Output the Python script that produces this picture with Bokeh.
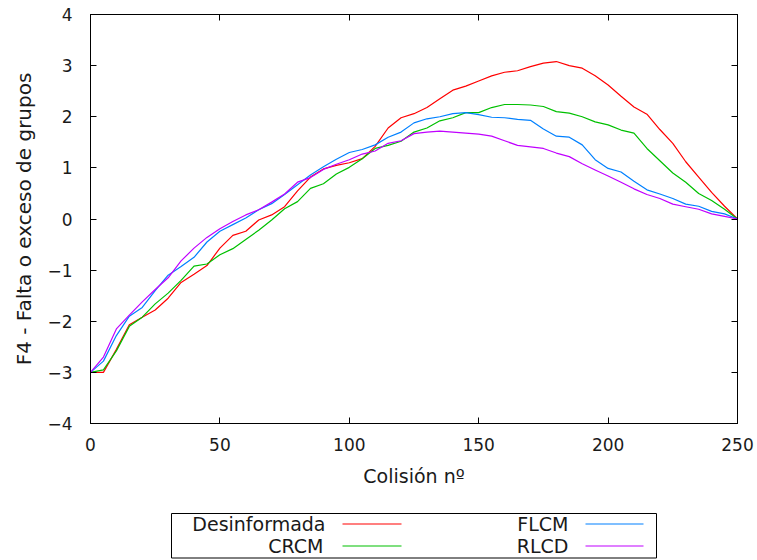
from bokeh.plotting import figure
from bokeh.models import Range1d, FixedTicker, LinearAxis, ColumnDataSource
from bokeh.layouts import column
from bokeh.core.properties import value
from bokeh.embed import file_html
from bokeh.resources import INLINE

# ---------------- data ----------------
x = list(range(0, 255, 5))

desinformada = [-3.0, -3.0, -2.55, -2.07, -1.92, -1.78, -1.55, -1.24, -1.08, -0.91,
                -0.57, -0.32, -0.24, -0.02, 0.08, 0.24, 0.55, 0.82, 0.98, 1.05,
                1.10, 1.18, 1.42, 1.78, 1.98, 2.06, 2.18, 2.35, 2.52, 2.60,
                2.70, 2.80, 2.87, 2.90, 2.98, 3.05, 3.08, 3.00, 2.95, 2.80,
                2.62, 2.40, 2.19, 2.05, 1.75, 1.48, 1.12, 0.82, 0.52, 0.25, 0.0]

crcm = [-3.0, -2.95, -2.58, -2.10, -1.92, -1.66, -1.45, -1.20, -0.92, -0.88,
        -0.70, -0.58, -0.40, -0.22, -0.02, 0.20, 0.34, 0.60, 0.69, 0.88,
        1.01, 1.18, 1.38, 1.44, 1.52, 1.70, 1.78, 1.92, 1.98, 2.08,
        2.08, 2.18, 2.24, 2.24, 2.23, 2.20, 2.10, 2.07, 2.00, 1.90,
        1.84, 1.74, 1.68, 1.38, 1.14, 0.90, 0.72, 0.50, 0.36, 0.19, 0.0]

flcm = [-3.0, -2.78, -2.28, -1.90, -1.73, -1.40, -1.10, -0.93, -0.75, -0.45,
        -0.24, -0.11, 0.02, 0.18, 0.30, 0.48, 0.67, 0.86, 1.02, 1.17,
        1.30, 1.36, 1.45, 1.60, 1.70, 1.88, 1.96, 2.00, 2.06, 2.08,
        2.04, 1.99, 1.98, 1.95, 1.93, 1.76, 1.62, 1.60, 1.45, 1.16,
        0.99, 0.92, 0.74, 0.57, 0.49, 0.40, 0.29, 0.25, 0.15, 0.10, 0.0]

rlcd = [-3.0, -2.70, -2.15, -1.88, -1.62, -1.38, -1.15, -0.82, -0.57, -0.36,
        -0.19, -0.05, 0.08, 0.18, 0.33, 0.49, 0.72, 0.81, 0.97, 1.07,
        1.16, 1.27, 1.33, 1.48, 1.53, 1.67, 1.70, 1.72, 1.70, 1.68,
        1.66, 1.62, 1.53, 1.44, 1.41, 1.38, 1.29, 1.22, 1.08, 0.96,
        0.84, 0.72, 0.59, 0.48, 0.40, 0.29, 0.24, 0.19, 0.10, 0.05, 0.0]

series_names = ["Desinformada", "CRCM", "FLCM", "RLCD"]
series_values = [desinformada, crcm, flcm, rlcd]
series_colors = ["#ff0000", "#00c000", "#0080ff", "#c000ff"]

x_ticks = [0, 50, 100, 150, 200, 250]
y_ticks = [-4, -3, -2, -1, 0, 1, 2, 3, 4]

FONT = "DejaVu Sans"
FS_TICK = "17px"
FS_XLAB = "19px"
FS_YLAB = "20px"
FS_LEG = "19px"
TXT = "#1a1a1a"

# layout (page pixels)
FL, FW, FT, FH = 90, 647, 14, 409
MAIN_H = 500
W = 757

# ---------------- main plot ----------------
p = figure(width=W, height=MAIN_H, output_backend="svg", toolbar_location=None,
           x_range=Range1d(0, 250), y_range=Range1d(-4, 4),
           frame_width=FW, frame_height=FH,
           min_border_left=FL, min_border_top=FT,
           min_border_right=W - FL - FW, min_border_bottom=MAIN_H - FT - FH)
p.grid.visible = False
p.outline_line_color = "black"
p.outline_line_width = 1
p.background_fill_color = "white"
p.border_fill_color = "white"

for vals, col in zip(series_values, series_colors):
    p.line(x, vals, line_color=col, line_width=1.2)

def style_axis(ax, label_size):
    ax.axis_line_color = "black"
    ax.major_tick_line_color = "black"
    ax.major_tick_in = 6
    ax.major_tick_out = 0
    ax.minor_tick_line_color = None
    ax.major_label_text_font = FONT
    ax.major_label_text_font_size = FS_TICK
    ax.major_label_text_color = TXT
    ax.axis_label_text_font = FONT
    ax.axis_label_text_font_size = label_size
    ax.axis_label_text_font_style = "normal"
    ax.axis_label_text_color = TXT

p.xaxis.ticker = FixedTicker(ticks=x_ticks)
p.yaxis.ticker = FixedTicker(ticks=y_ticks)
style_axis(p.xaxis[0], FS_XLAB)
style_axis(p.yaxis[0], FS_YLAB)
p.xaxis.axis_label = "Colisión nº"
p.yaxis.axis_label = "F4 - Falta o exceso de grupos"
p.yaxis.major_label_standoff = 18
p.yaxis.axis_label_standoff = 8
p.xaxis.major_label_standoff = 14
p.xaxis.axis_label_standoff = 11

# mirrored inside ticks on top and right (no labels)
top_ax = LinearAxis(ticker=FixedTicker(ticks=x_ticks), major_label_standoff=0,
                    major_label_overrides={t: "" for t in x_ticks})
style_axis(top_ax, FS_XLAB)
p.add_layout(top_ax, "above")
right_ax = LinearAxis(ticker=FixedTicker(ticks=y_ticks), major_label_standoff=0,
                      major_label_overrides={t: "" for t in y_ticks})
style_axis(right_ax, FS_YLAB)
p.add_layout(right_ax, "right")

# ---------------- legend (gnuplot style, below) ----------------
LG_H = 59
lg = figure(width=W, height=LG_H, output_backend="svg", toolbar_location=None,
            x_range=Range1d(FL, FL + FW), y_range=Range1d(MAIN_H + LG_H, MAIN_H),
            x_axis_location=None, y_axis_location=None,
            frame_width=FW, frame_height=LG_H,
            min_border_left=FL, min_border_right=W - FL - FW,
            min_border_top=0, min_border_bottom=0)
lg.grid.visible = False
lg.outline_line_color = None
lg.background_fill_color = "white"
lg.border_fill_color = "white"

# legend frame (page coordinates)
lg.quad(left=[171], right=[656], top=[513], bottom=[557.5],
        fill_color=None, line_color="black", line_width=1)

leg_src = ColumnDataSource(dict(
    name=series_names,
    color=series_colors,
    tx=[325, 323, 568, 568],
    ty=[523, 545.5, 523, 545.5],
    lx0=[342, 342, 585, 585],
    lx1=[401, 401, 643, 643],
    ly=[523.5, 545.5, 523.5, 545.5],
))
lg.text(x="tx", y="ty", text="name", source=leg_src,
        text_font=value(FONT), text_font_size=value(FS_LEG), text_color=TXT,
        text_align="right", text_baseline="middle")
lg.segment(x0="lx0", x1="lx1", y0="ly", y1="ly", source=leg_src,
           line_color="color", line_width=1.2)

layout = column(p, lg, spacing=0)
open("out.html", "w").write(file_html(layout, INLINE))
